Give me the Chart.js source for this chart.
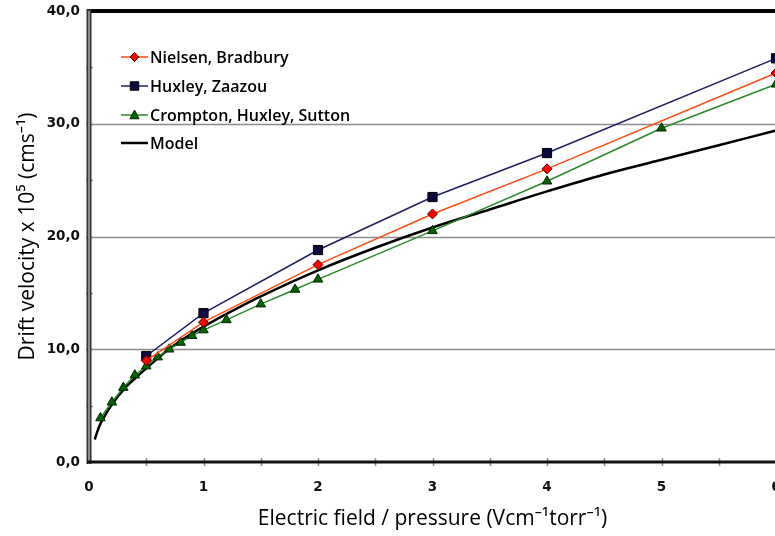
<!DOCTYPE html>
<html>
<head>
<meta charset="utf-8">
<title>Electron drift velocity</title>
<script src="https://cdn.jsdelivr.net/npm/chart.js@4/dist/chart.umd.min.js"></script>
<style>
  html, body { margin: 0; padding: 0; background: #fff; overflow: hidden; }
  #wrap { width: 775px; height: 536px; overflow: hidden; position: relative; }
  #box { width: 800px; height: 536px; position: absolute; left: 0; top: 0; }
</style>
</head>
<body>
<div id="wrap"><div id="box"><canvas id="c" width="800" height="536"></canvas></div></div>
<script>
// Measured drift velocities (x 10^5 cm/s) against E/p (V/cm/torr)
const fieldNielsen = [0.5, 1, 2, 3, 4, 6];
const velNielsen   = [9.0, 12.4, 17.5, 22.0, 26.0, 34.5];

const fieldHuxley  = [0.5, 1, 2, 3, 4, 6];
const velHuxley    = [9.4, 13.2, 18.8, 23.5, 27.4, 35.8];

const fieldCrompton = [0.1, 0.2, 0.3, 0.4, 0.5, 0.6, 0.7, 0.8, 0.9, 1.0, 1.2, 1.5, 1.8, 2, 3, 4, 5, 6];
const velCrompton   = [3.9, 5.3, 6.6, 7.7, 8.5, 9.3, 10.0, 10.6, 11.2, 11.7, 12.6, 14.0, 15.3, 16.2, 20.5, 24.9, 29.6, 33.5];

// Model curve
const fieldModel = [0.05, 0.1, 0.2, 0.3, 0.4, 0.5, 0.6, 0.75, 1, 1.25, 1.5, 2, 2.5, 3, 3.5, 4, 4.5, 5, 5.5, 6];
const velModel   = [2.0, 3.4, 5.1, 6.4, 7.4, 8.3, 9.2, 10.4, 12.0, 13.4, 14.7, 17.0, 19.0, 20.8, 22.4, 24.0, 25.5, 26.8, 28.1, 29.4];

const xTicks = [0, 1, 2, 3, 4, 5, 6];
const yTicks = [0, 10, 20, 30, 40];

const seriesNames = ['Nielsen, Bradbury', 'Huxley, Zaazou', 'Crompton, Huxley, Sutton', 'Model'];

const pts = (xs, ys) => xs.map((x, i) => ({ x: x, y: ys[i] }));

const FONT = "'Open Sans', 'Noto Sans', sans-serif";
const TICK_FONT = "'DejaVu Sans', sans-serif";

// Frame, axis lines and cross ticks around the plot area
const framePlugin = {
  id: 'frame',
  beforeDatasetsDraw(chart) {
    const { ctx, chartArea: a, scales } = chart;
    const ys = scales.y;
    ctx.save();
    ctx.strokeStyle = '#8c8c8c';
    ctx.lineWidth = 1.5;
    [10, 20, 30].forEach(v => {
      const y = Math.round(ys.getPixelForValue(v)) + 0.5;
      ctx.beginPath(); ctx.moveTo(a.left, y); ctx.lineTo(a.right, y); ctx.stroke();
    });
    ctx.restore();
  },
  afterDatasetsDraw(chart) {
    const { ctx, chartArea: a, scales } = chart;
    const xs = scales.x, ys = scales.y;
    ctx.save();
    // right border
    ctx.strokeStyle = '#222';
    ctx.lineWidth = 1.5;
    ctx.beginPath(); ctx.moveTo(a.right, a.top); ctx.lineTo(a.right, a.bottom); ctx.stroke();
    // top border
    ctx.strokeStyle = '#000';
    ctx.lineWidth = 4;
    ctx.beginPath(); ctx.moveTo(a.left, a.top); ctx.lineTo(a.right + 1, a.top); ctx.stroke();
    // x-axis ticks crossing the axis
    ctx.strokeStyle = '#8a8a8a';
    ctx.lineWidth = 1.5;
    for (let v = 0.5; v <= 6; v += 0.5) {
      const x = Math.round(xs.getPixelForValue(v)) + 0.5;
      ctx.beginPath(); ctx.moveTo(x, a.bottom - 4); ctx.lineTo(x, a.bottom + 4); ctx.stroke();
    }
    // y-axis ticks crossing the axis
    for (let v = 5; v < 40; v += 5) {
      const y = Math.round(ys.getPixelForValue(v)) + 0.5;
      ctx.beginPath(); ctx.moveTo(a.left - 3, y); ctx.lineTo(a.left + 4, y); ctx.stroke();
    }
    // left axis: gray bar with dark edges
    ctx.fillStyle = '#333';
    ctx.fillRect(a.left - 2.5, a.top - 2, 5, a.bottom - a.top + 4);
    ctx.fillStyle = '#8a8a8a';
    ctx.fillRect(a.left - 1, a.top, 2, a.bottom - a.top + 2);
    // bottom axis
    ctx.strokeStyle = '#111';
    ctx.lineWidth = 3;
    ctx.beginPath(); ctx.moveTo(a.left - 2, a.bottom); ctx.lineTo(a.right + 1, a.bottom); ctx.stroke();
    ctx.restore();
  }
};

function drawMarker(ctx, style, x, y, r, fill, stroke) {
  ctx.save();
  ctx.fillStyle = fill; ctx.strokeStyle = stroke; ctx.lineWidth = 1;
  ctx.beginPath();
  if (style === 'rectRot') {
    ctx.moveTo(x, y - r); ctx.lineTo(x + r, y); ctx.lineTo(x, y + r); ctx.lineTo(x - r, y); ctx.closePath();
  } else if (style === 'rect') {
    const s = r * Math.SQRT1_2;
    ctx.rect(x - s, y - s, 2 * s, 2 * s);
  } else if (style === 'triangle') {
    const h = r * 0.75;
    ctx.moveTo(x, y - r); ctx.lineTo(x + r * 0.9, y + h); ctx.lineTo(x - r * 0.9, y + h); ctx.closePath();
  }
  if (style) { ctx.fill(); ctx.stroke(); }
  ctx.restore();
}

// Legend drawn inside the plot area
const legendPlugin = {
  id: 'innerLegend',
  afterDraw(chart) {
    const ctx = chart.ctx;
    const x0 = 121, x1 = 148, tx = 150;
    const rows = [57, 86, 115, 143];
    ctx.save();
    chart.data.datasets.forEach((ds, i) => {
      const y = rows[i];
      ctx.strokeStyle = ds.borderColor;
      ctx.lineWidth = ds.borderWidth;
      ctx.beginPath(); ctx.moveTo(x0, y); ctx.lineTo(x1, y); ctx.stroke();
      if (ds.pointStyle && ds.pointRadius > 0) {
        drawMarker(ctx, ds.pointStyle, (x0 + x1) / 2, y, ds.pointRadius - 0.5, ds.pointBackgroundColor, ds.pointBorderColor);
      }
      ctx.fillStyle = '#000';
      ctx.font = '600 16px ' + FONT;
      ctx.textBaseline = 'middle';
      ctx.textAlign = 'left';
      ctx.fillText(ds.label, tx, y + 1);
    });
    ctx.restore();
  }
};

new Chart(document.getElementById('c'), {
  type: 'line',
  data: {
    datasets: [
      {
        label: seriesNames[0],
        data: pts(fieldNielsen, velNielsen),
        borderColor: '#ff4a14', borderWidth: 1.5,
        pointStyle: 'rectRot', pointRadius: 5,
        pointBackgroundColor: '#ff0000', pointBorderColor: '#5a0000', pointBorderWidth: 1,
        tension: 0, clip: false
      },
      {
        label: seriesNames[1],
        data: pts(fieldHuxley, velHuxley),
        borderColor: '#1e1e60', borderWidth: 1.5,
        pointStyle: 'rect', pointRadius: 6.5,
        pointBackgroundColor: '#0a0a40', pointBorderColor: '#000', pointBorderWidth: 1,
        tension: 0, clip: false
      },
      {
        label: seriesNames[2],
        data: pts(fieldCrompton, velCrompton),
        borderColor: '#2a8a2a', borderWidth: 1.5,
        pointStyle: 'triangle', pointRadius: 5.5,
        pointBackgroundColor: '#006400', pointBorderColor: '#002200', pointBorderWidth: 1,
        tension: 0, clip: false
      },
      {
        label: seriesNames[3],
        data: pts(fieldModel, velModel),
        borderColor: '#000', borderWidth: 2.5,
        pointRadius: 0, pointStyle: false,
        tension: 0.35, clip: false
      }
    ]
  },
  options: {
    responsive: false,
    animation: false,
    events: [],
    layout: { padding: { top: 11, right: 24, left: 0, bottom: 0 } },
    plugins: { legend: { display: false }, tooltip: { enabled: false } },
    scales: {
      x: {
        type: 'linear', min: 0, max: 6,
        afterFit(s) { s.height = 74; s.paddingLeft = 0; s.paddingRight = 0; },
        afterBuildTicks(s) { s.ticks = xTicks.map(v => ({ value: v })); },
        grid: { display: false, drawTicks: false },
        border: { display: false },
        ticks: {
          padding: 17, color: '#111',
          font: { family: TICK_FONT, size: 13.5, weight: 'bold' },
          callback: v => String(v)
        },
        title: {
          display: true, text: 'Electric field / pressure (Vcm\u207B\u00B9torr\u207B\u00B9)',
          color: '#000', font: { family: FONT, size: 21, weight: '500' },
          padding: { top: 0, bottom: 4 }
        }
      },
      y: {
        type: 'linear', min: 0, max: 40,
        afterFit(s) { s.width = 89; s.paddingTop = 0; s.paddingBottom = 0; },
        afterBuildTicks(s) { s.ticks = yTicks.map(v => ({ value: v })); },
        grid: { display: false, drawTicks: false },
        border: { display: false },
        ticks: {
          padding: 9, color: '#111',
          font: { family: TICK_FONT, size: 13.5, weight: 'bold' },
          callback: v => v.toFixed(1).replace('.', ',')
        },
        title: {
          display: true, text: 'Drift velocity x 10\u2075 (cms\u207B\u00B9)',
          color: '#000', font: { family: FONT, size: 21, weight: '500' },
          padding: { top: 15, bottom: 0 }
        }
      }
    }
  },
  plugins: [framePlugin, legendPlugin]
});
</script>
</body>
</html>
